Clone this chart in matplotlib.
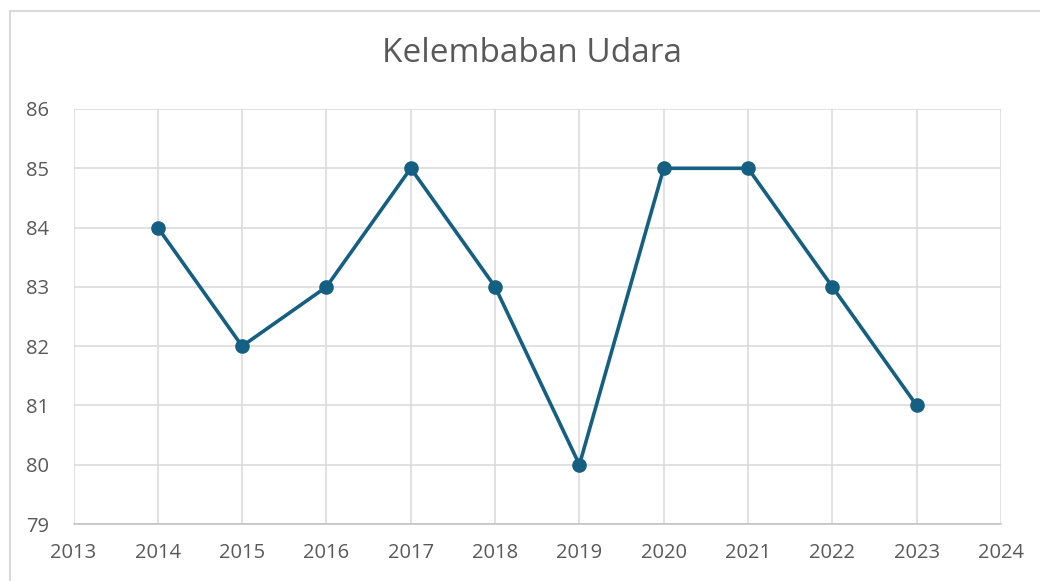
import matplotlib
matplotlib.use('Agg')
import matplotlib.pyplot as plt
from matplotlib.patches import Rectangle

# data
tahun = [2014, 2015, 2016, 2017, 2018, 2019, 2020, 2021, 2022, 2023]
kelembaban = [84, 82, 83, 85, 83, 80, 85, 85, 83, 81]
xticks = list(range(2013, 2025))
yticks = list(range(79, 87))

plt.rcParams['font.family'] = ['Open Sans', 'DejaVu Sans']

fig = plt.figure(figsize=(10.4, 5.81), dpi=100)
ax = fig.add_axes([73.5 / 1040, 1 - 524 / 581, (1001 - 73.5) / 1040, (524 - 109) / 581])

# bingkai chart
fig.patches.append(Rectangle((9.5 / 1040, -0.1), 1.2, 1 - 11 / 581 + 0.1,
                             transform=fig.transFigure, fill=False,
                             edgecolor='#d9d9d9', linewidth=1.5))

ax.plot(tahun, kelembaban, color='#156082', linewidth=2.6, marker='o',
        markersize=9.5, zorder=3)

ax.set_xlim(2013, 2024)
ax.set_ylim(79, 86)
ax.set_xticks(xticks)
ax.set_yticks(yticks)
ax.grid(True, color='#d9d9d9', linewidth=1.1)
for s in ['top', 'right', 'left']:
    ax.spines[s].set_visible(False)
ax.spines['bottom'].set_color('#bfbfbf')
ax.spines['bottom'].set_linewidth(1.1)
ax.tick_params(length=0, labelsize=14.5, labelcolor='#595959')
ax.tick_params(axis='x', pad=14)
for lbl in ax.get_yticklabels():
    lbl.set_horizontalalignment('left')
ax.yaxis.set_tick_params(pad=34)

fig.text(532 / 1040, 1 - 54 / 581, 'Kelembaban Udara', ha='center', va='center',
         fontsize=24, color='#595959')

fig.savefig('out.png', dpi=100)
